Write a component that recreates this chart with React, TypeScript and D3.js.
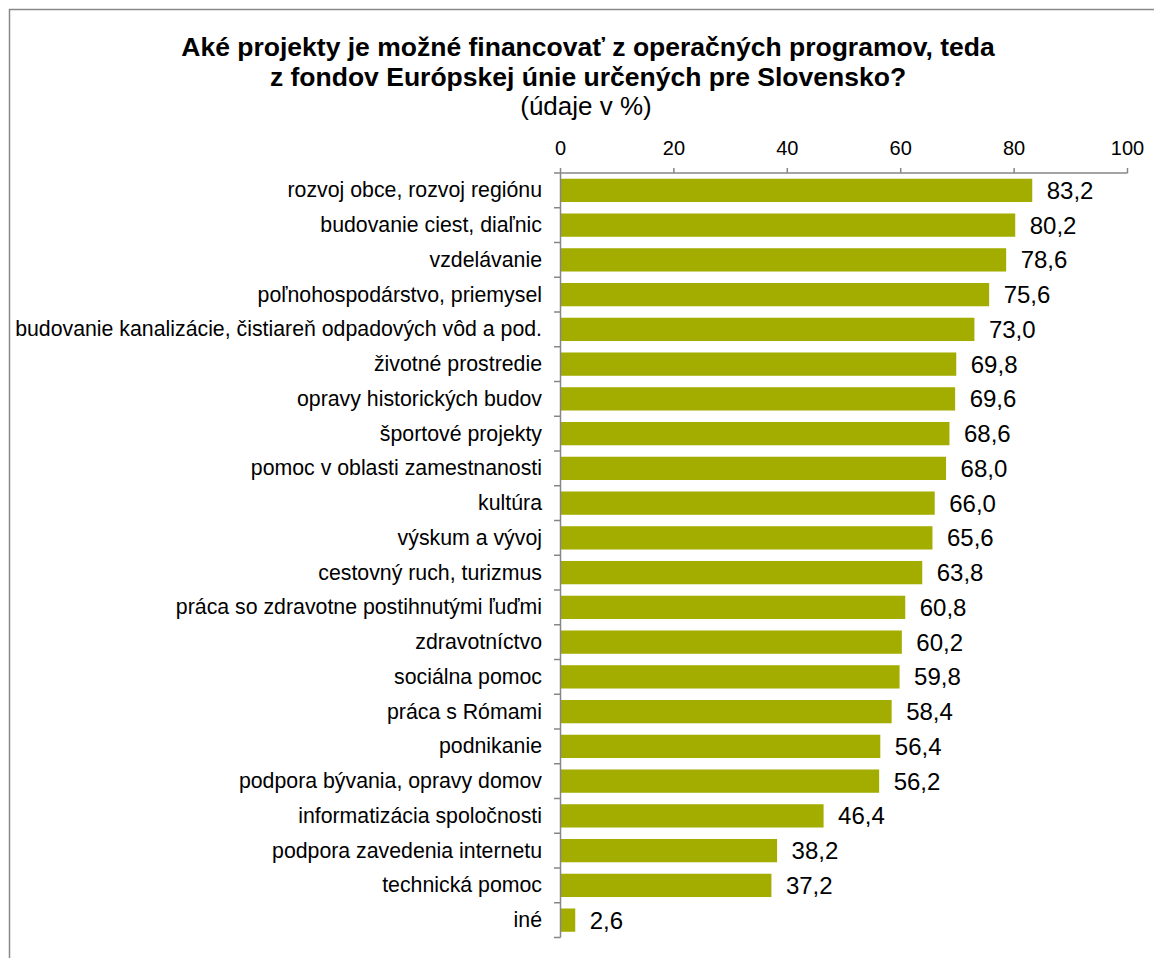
import React from "react";
import * as d3 from "d3";

const categories = [
  "rozvoj obce, rozvoj regiónu",
  "budovanie ciest, diaľnic",
  "vzdelávanie",
  "poľnohospodárstvo, priemysel",
  "budovanie kanalizácie, čistiareň odpadových vôd a pod.",
  "životné prostredie",
  "opravy historických budov",
  "športové projekty",
  "pomoc v oblasti zamestnanosti",
  "kultúra",
  "výskum a vývoj",
  "cestovný ruch, turizmus",
  "práca so zdravotne postihnutými ľuďmi",
  "zdravotníctvo",
  "sociálna pomoc",
  "práca s Rómami",
  "podnikanie",
  "podpora bývania, opravy domov",
  "informatizácia spoločnosti",
  "podpora zavedenia internetu",
  "technická pomoc",
  "iné",
];
const values = [83.2, 80.2, 78.6, 75.6, 73.0, 69.8, 69.6, 68.6, 68.0, 66.0, 65.6, 63.8, 60.8, 60.2, 59.8, 58.4, 56.4, 56.2, 46.4, 38.2, 37.2, 2.6];
const ticks = [0, 20, 40, 60, 80, 100];
const titleLines = [
  "Aké projekty je možné financovať z operačných programov, teda",
  "z fondov Európskej únie určených pre Slovensko?",
];
const subtitle = "(údaje v %)";

const W = 1154;
const H = 958;
const FONT = "'Liberation Sans', Arial, sans-serif";

export default function App() {
  const x = d3.scaleLinear().domain([0, 100]).range([560.5, 1127.5]);
  const y = d3.scaleBand().domain(categories).range([173, 937.5]).paddingInner(0.33).paddingOuter(0.165);
  const band = y.step();
  const axisColor = "#868686";
  const fmt = (v: number) => v.toFixed(1).replace(".", ",");
  return (
    <svg width={W} height={H} style={{ position: "absolute", left: 0, top: 0 }}>
      <rect x={0} y={0} width={W} height={H} fill="#fff" />
      <path d={`M9.5,${H + 5} V9.5 H${W + 5}`} fill="none" stroke="#888" strokeWidth={1.5} />
      <g fontFamily={FONT} textAnchor="middle" fill="#000">
        {titleLines.map((t, i) => (
          <text key={i} x={588} y={55.5 + i * 30} fontSize={26.5} fontWeight="bold">{t}</text>
        ))}
        <text x={586} y={115} fontSize={26}>{subtitle}</text>
      </g>
      {/* top axis */}
      <g>
        <line x1={x(0)} x2={x(100)} y1={173} y2={173} stroke={axisColor} strokeWidth={1.5} />
        {ticks.map((t) => (
          <g key={t}>
            <line x1={x(t)} x2={x(t)} y1={168} y2={173} stroke={axisColor} strokeWidth={1.5} />
            <text x={x(t)} y={155} fontSize={20} fontFamily={FONT} textAnchor="middle">{t}</text>
          </g>
        ))}
      </g>
      {/* bars */}
      {categories.map((c, i) => (
        <g key={c}>
          <rect x={x(0)} y={y(c)!} width={x(values[i]) - x(0)} height={y.bandwidth()} fill="#A2AD00" />
          <text x={x(values[i]) + 14.5} y={y(c)! + y.bandwidth() / 2 + 8.6} fontSize={24} fontFamily={FONT}>{fmt(values[i])}</text>
          <text x={542} y={y(c)! + y.bandwidth() / 2 + 7} fontSize={21.3} fontFamily={FONT} textAnchor="end">{c}</text>
        </g>
      ))}
      {/* left axis */}
      <g>
        <line x1={x(0)} x2={x(0)} y1={173} y2={937.5} stroke={axisColor} strokeWidth={1.5} />
        {categories.map((c, i) => (
          <line key={i} x1={554} x2={x(0)} y1={173 + (i + 1) * band} y2={173 + (i + 1) * band} stroke={axisColor} strokeWidth={1.5} />
        ))}
        <line x1={554} x2={x(0)} y1={173} y2={173} stroke={axisColor} strokeWidth={1.5} />
      </g>
    </svg>
  );
}
